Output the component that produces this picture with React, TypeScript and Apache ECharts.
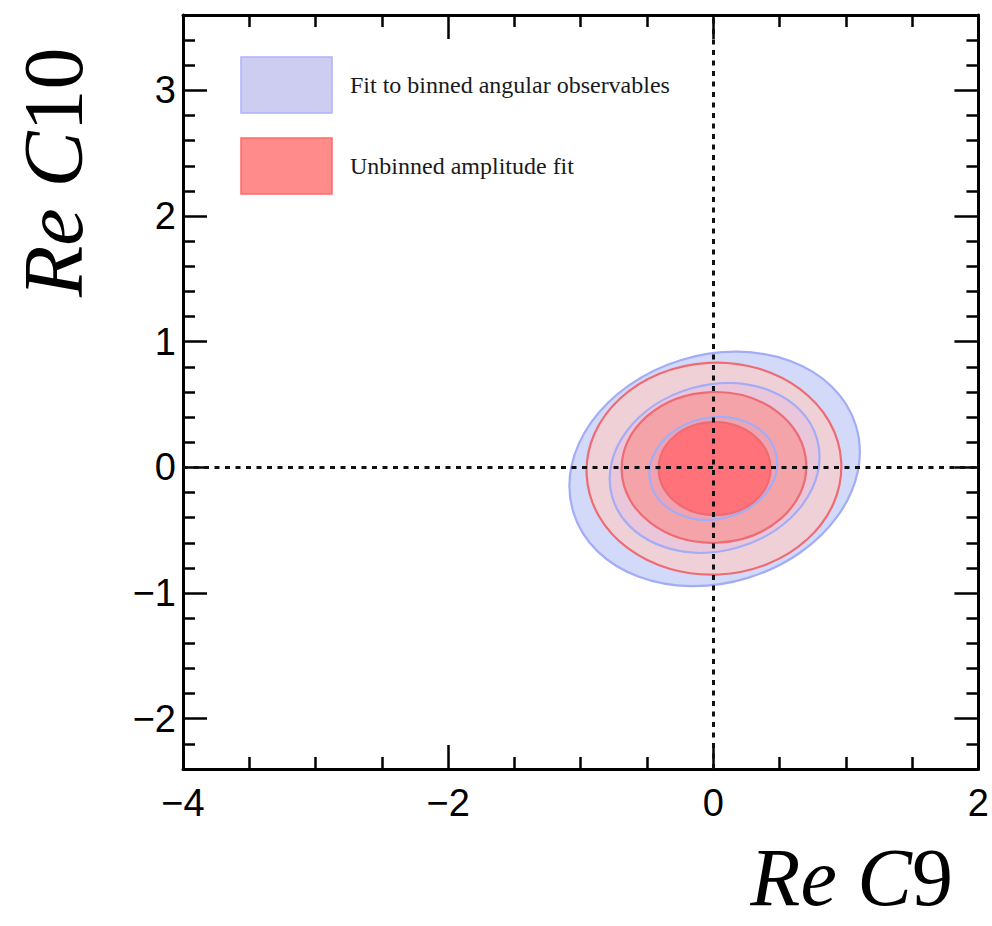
import React, { useEffect, useRef } from "react";
import * as echarts from "echarts";

// ---- data ----
const seriesNames = ["Fit to binned angular observables", "Unbinned amplitude fit"];
// contours: [centre C9, centre C10, semi-axis along major (C9 units), semi-axis along minor (C10 units), tilt deg]
const blueContours = [
  [0.01, -0.012, 1.115, 0.907, 17],
  [0.01, -0.004, 0.803, 0.66, 15.6],
  [0.0, -0.008, 0.486, 0.404, 12],
];
const redContours = [
  [0.005, -0.01, 0.961, 0.843, 3],
  [0.005, 0.0, 0.697, 0.6, 2],
  [0.01, -0.01, 0.422, 0.37, 0],
];
const xRange = [-4, 2];
const yRange = [-2.4, 3.6];
const yMajorTicks = [-2, -1, 0, 1, 2, 3];
const yMinorTicks = [
  -2.4, -2.2, -1.8, -1.6, -1.4, -1.2, -0.8, -0.6, -0.4, -0.2, 0.2, 0.4, 0.6, 0.8, 1.2, 1.4, 1.6, 1.8, 2.2,
  2.4, 2.6, 2.8, 3.2, 3.4, 3.6,
];
const refLines = { x: 0, y: 0 };

// ---- styles ----
const blueFills = ["#d3d9f8", "#eac6da", "#efa2b0"];
const redFills = ["#f0d0d7", "#f4a4a9", "#ff7279"];
const blueStroke = "#a3acf6";
const redStroke = "#ef6b74";

const fmt = (v: number) => (v < 0 ? "\u2212" + Math.abs(v) : String(v));
const tickFont = "Liberation Sans, Arial, sans-serif";
const serif = "Liberation Serif, Times New Roman, serif";

function makeRender(fills: string[], stroke: string, zOffset: number) {
  return (params: any, api: any) => {
    const c = api.coord([api.value(0), api.value(1)]);
    const rx = api.size([api.value(2), 0])[0];
    const ry = api.size([0, api.value(3)])[1];
    const i = params.dataIndex;
    return {
      type: "ellipse",
      x: c[0],
      y: c[1],
      rotation: (api.value(4) * Math.PI) / 180,
      shape: { cx: 0, cy: 0, rx, ry },
      z2: zOffset + 2 * i,
      style: { fill: fills[i], stroke, lineWidth: 2.2 },
    };
  };
}

export default function App() {
  const ref = useRef<HTMLDivElement>(null);
  useEffect(() => {
    const chart = echarts.init(ref.current!, null, { renderer: "svg" });
    const axisLine = { show: true, onZero: false, lineStyle: { color: "#000", width: 3 } };
    const xBase = {
      type: "value",
      min: xRange[0],
      max: xRange[1],
      interval: 2,
      axisLine,
      axisTick: { show: true, inside: true, length: 24, lineStyle: { color: "#000", width: 2.5 } },
      minorTick: { show: true, splitNumber: 4, length: 12, lineStyle: { color: "#000", width: 2.5 } },
      splitLine: { show: false },
      minorSplitLine: { show: false },
    };
    const yMajor = (pos: string, labels: boolean) => ({
      type: "value",
      position: pos,
      min: yRange[0],
      max: yRange[1],
      axisLine,
      axisTick: {
        show: true,
        inside: true,
        length: 24,
        customValues: yMajorTicks,
        lineStyle: { color: "#000", width: 2.5 },
      },
      axisLabel: labels
        ? {
            show: true,
            customValues: yMajorTicks,
            formatter: fmt,
            fontSize: 38,
            fontFamily: tickFont,
            color: "#000",
            margin: 7,
          }
        : { show: false },
      splitLine: { show: false },
    });
    const yMinor = (pos: string) => ({
      type: "value",
      position: pos,
      min: yRange[0],
      max: yRange[1],
      axisLine: { show: false, onZero: false },
      axisTick: {
        show: true,
        inside: true,
        length: 12,
        customValues: yMinorTicks,
        lineStyle: { color: "#000", width: 2.5 },
      },
      axisLabel: { show: false },
      splitLine: { show: false },
    });

    const titleRich = {
      i: { fontFamily: serif, fontStyle: "italic", fontSize: 82, lineHeight: 62, fill: "#000" },
      n: { fontFamily: serif, fontSize: 82, lineHeight: 62, fill: "#000" },
    };
    const titleRichY = {
      i: { fontFamily: serif, fontStyle: "italic", fontSize: 84, lineHeight: 64, fill: "#000" },
      n: { fontFamily: serif, fontSize: 84, lineHeight: 64, fill: "#000" },
    };

    chart.setOption({
      animation: false,
      backgroundColor: "#fff",
      grid: { left: 183, right: 13, top: 15, bottom: 157 },
      xAxis: [
        {
          ...xBase,
          position: "bottom",
          axisLabel: {
            show: true,
            formatter: fmt,
            fontSize: 38,
            fontFamily: tickFont,
            color: "#000",
            margin: 15,
          },
        },
        { ...xBase, position: "top", axisLabel: { show: false } },
      ],
      yAxis: [yMajor("left", true), yMinor("left"), yMajor("right", false), yMinor("right")],
      series: [
        {
          name: seriesNames[0],
          type: "custom",
          xAxisIndex: 0,
          yAxisIndex: 0,
          renderItem: makeRender(blueFills, blueStroke, 1),
          data: blueContours,
          encode: { x: 0, y: 1 },
          clip: true,
        },
        {
          name: seriesNames[1],
          type: "custom",
          xAxisIndex: 0,
          yAxisIndex: 0,
          renderItem: makeRender(redFills, redStroke, 2),
          data: redContours,
          encode: { x: 0, y: 1 },
          clip: true,
          markLine: {
            silent: true,
            symbol: ["none", "none"],
            label: { show: false },
            z: 10,
            lineStyle: { color: "#111", width: 3, type: [5, 5.5] },
            data: [{ yAxis: refLines.y }, { xAxis: refLines.x }],
          },
        },
      ],
      graphic: [
        {
          type: "rect",
          shape: { x: 241, y: 57, width: 91, height: 56 },
          style: { fill: "#cccdf0", stroke: "#aeb3f7", lineWidth: 1.5 },
        },
        {
          type: "rect",
          shape: { x: 241, y: 138, width: 91, height: 56 },
          style: { fill: "#ff8b8b", stroke: "#ff6b6b", lineWidth: 1.5 },
        },
        {
          type: "text",
          x: 350,
          y: 85,
          style: {
            text: seriesNames[0],
            font: "24px " + serif,
            fill: "#1a1a1a",
            verticalAlign: "middle",
          },
        },
        {
          type: "text",
          x: 350,
          y: 166,
          style: {
            text: seriesNames[1],
            font: "24px " + serif,
            fill: "#1a1a1a",
            verticalAlign: "middle",
          },
        },
        {
          type: "text",
          x: 953,
          y: 877,
          style: {
            text: "{i|Re C}{n|9}",
            align: "right",
            verticalAlign: "middle",
            rich: titleRich,
          },
        },
        {
          type: "text",
          x: 53,
          y: 297,
          rotation: Math.PI / 2,
          style: {
            text: "{i|Re C}{n|10}",
            align: "left",
            verticalAlign: "middle",
            rich: titleRichY,
          },
        },
      ],
    });
    return () => chart.dispose();
  }, []);
  return (
    <div
      ref={ref}
      style={{ position: "fixed", left: 0, top: 0, width: 992, height: 926, background: "#fff" }}
    />
  );
}
